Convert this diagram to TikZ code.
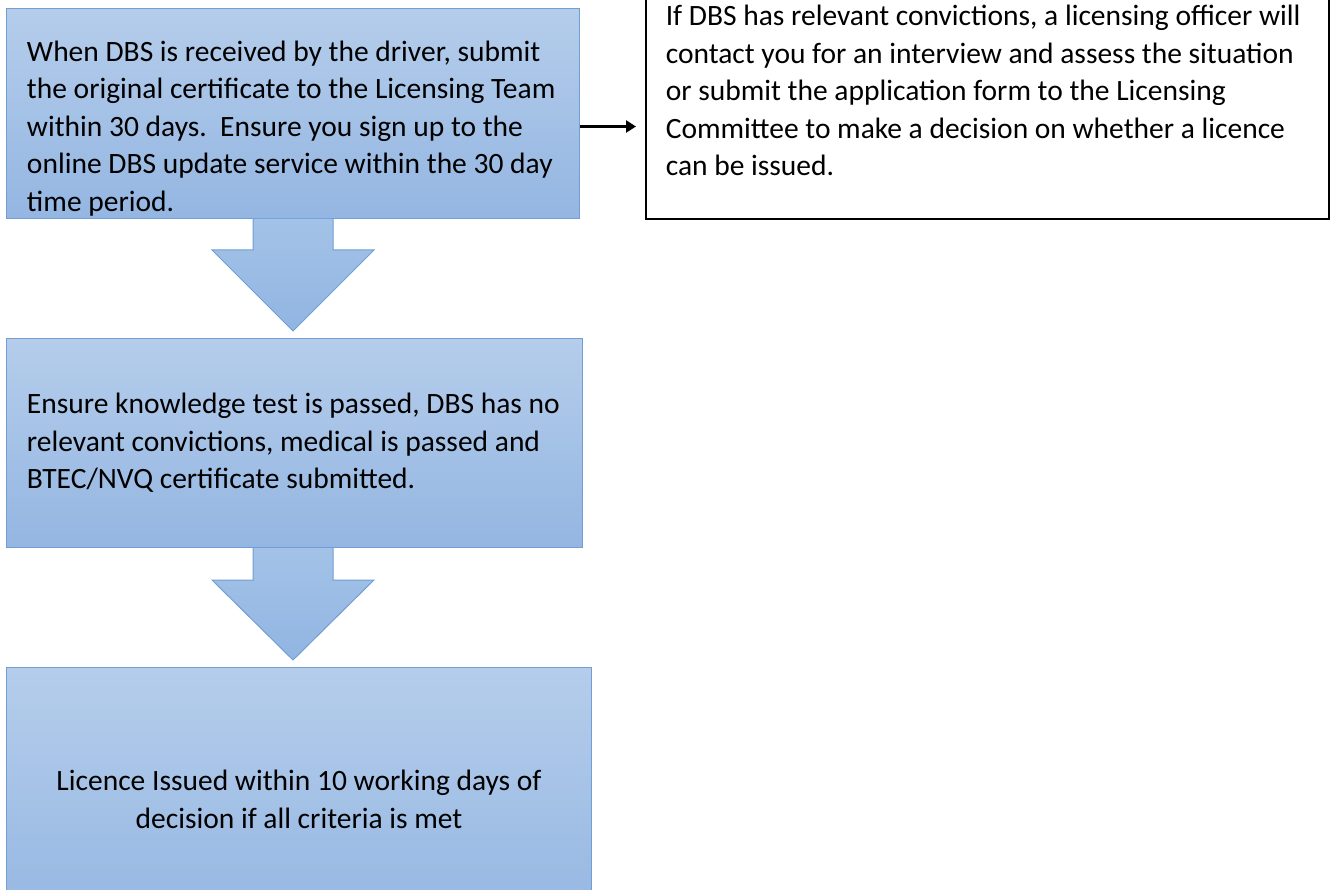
\documentclass[tikz,border=0pt]{standalone}
\usepackage{fontspec}
\setmainfont{Carlito}
\usepackage{tikz}
\usetikzlibrary{arrows.meta}

\definecolor{boxtop}{RGB}{181,205,235}
\definecolor{boxbottom}{RGB}{148,182,226}
\definecolor{boxline}{RGB}{112,158,213}
\definecolor{arrowtop}{RGB}{163,194,231}
\definecolor{arrowbottom}{RGB}{145,181,226}

\begin{document}
\begin{tikzpicture}[x=1pt, y=-1pt,
    stage/.style={draw=boxline, line width=1pt, top color=boxtop, bottom color=boxbottom,
      font=\fontsize{29.5}{37.5}\selectfont, inner ysep=0pt},
    note/.style={draw=black, line width=1.6pt, fill=white,
      font=\fontsize{29.5}{37.5}\selectfont, inner ysep=0pt},
    blockarrow/.style={draw=boxline, line width=1pt, top color=arrowtop, bottom color=arrowbottom},
    link/.style={line width=2.4pt, -{Triangle[length=10pt,width=12pt]}}]
  \path[use as bounding box, clip] (0,0) rectangle (1336,890);

  \node[stage, anchor=north west, minimum width=573pt, minimum height=210pt,
    text width=532pt, inner xsep=20.5pt, align=flush left] (driver) at (6,8)
    {\rule{0pt}{50pt}When DBS is received by the driver, submit\\
     the original certificate to the Licensing Team\\
     within 30 days.\ \ Ensure you sign up to the\\
     online DBS update service within the 30 day\\
     time period.};

  \node[stage, anchor=north west, minimum width=576pt, minimum height=209pt,
    text width=535pt, inner xsep=20.5pt, align=flush left] (checks) at (6,338)
    {Ensure knowledge test is passed, DBS has no\\
     relevant convictions, medical is passed and\\
     BTEC/NVQ certificate submitted.};

  \node[stage, anchor=north west, minimum width=585pt, minimum height=264pt,
    align=center] (licence) at (6,667)
    {Licence Issued within 10 working days of\\
     decision if all criteria is met};

  \node[note, anchor=north west, minimum width=683pt, minimum height=256pt,
    text width=643pt, inner xsep=20pt, align=flush left] (officer) at (645,-38)
    {If DBS has relevant convictions, a licensing officer will\\
     contact you for an interview and assess the situation\\
     or submit the application form to the Licensing\\
     Committee to make a decision on whether a licence\\
     can be issued.};

  % block arrows between the stages
  \draw[blockarrow] ([xshift=-40pt]driver.south) -- ++(0,31) -- ++(-41,0) -- ++(81,81)
    -- ++(81,-81) -- ++(-41,0) -- ++(0,-31);
  \draw[blockarrow] ([xshift=-40pt]driver.south |- checks.south) -- ++(0,32) -- ++(-41,0) -- ++(81,80)
    -- ++(81,-80) -- ++(-41,0) -- ++(0,-32);

  \draw[link] ([yshift=-13pt]driver.east) -- ([xshift=-9pt,yshift=-13pt]driver.east -| officer.west);
\end{tikzpicture}
\end{document}
